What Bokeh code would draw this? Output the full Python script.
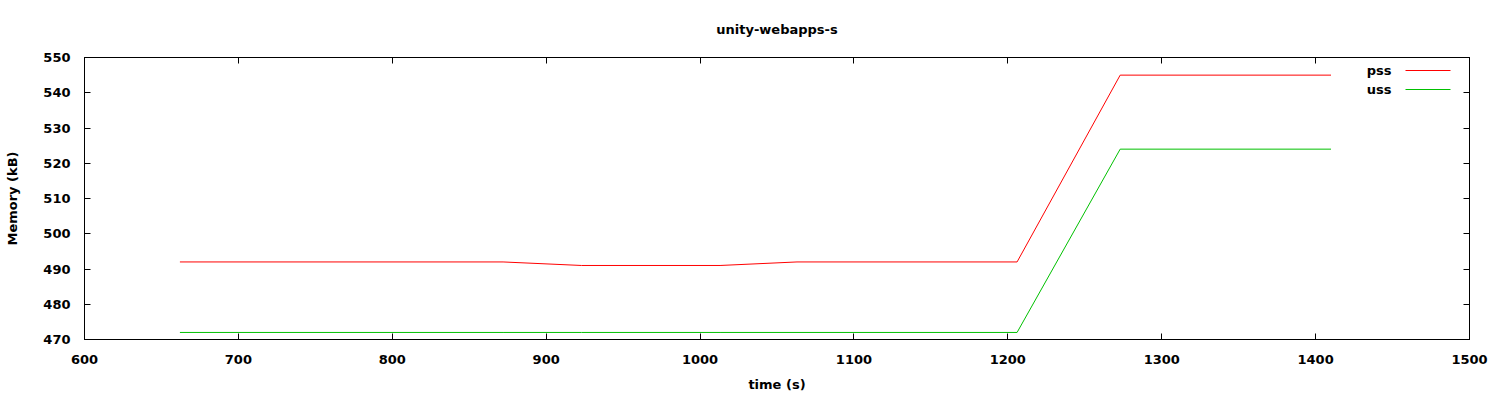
from bokeh.plotting import figure
from bokeh.models import (LinearAxis, FixedTicker, Range1d, Label, Arrow,
                          CustomJSTickFormatter)
from bokeh.embed import file_html
from bokeh.resources import INLINE

# ---- data ----
time_s = [662, 872, 923, 1013, 1063, 1206, 1273, 1410]
pss = [492, 492, 491, 491, 492, 492, 545, 545]
uss = [472, 472, 472, 472, 472, 472, 524, 524]
series_names = ["pss", "uss"]
series_colors = ["#ff0000", "#00c000"]
x_ticks = [600, 700, 800, 900, 1000, 1100, 1200, 1300, 1400, 1500]
y_ticks = [470, 480, 490, 500, 510, 520, 530, 540, 550]
title_text = "unity-webapps-s"
x_label = "time (s)"
y_label = "Memory (kB)"

FONT = "DejaVu Sans"
FS = "13px"

W, H = 1500, 400
BL, BR, BT, BB = 84, 31, 57, 61
FRAME_W, FRAME_H = W - BL - BR, H - BT - BB

p = figure(width=W, height=H, output_backend="svg", toolbar_location=None,
           x_range=Range1d(x_ticks[0], x_ticks[-1]),
           y_range=Range1d(y_ticks[0], y_ticks[-1]),
           min_border_left=BL, min_border_right=BR,
           min_border_top=BT, min_border_bottom=BB)

p.title.text = title_text
p.title.align = "center"
p.title.vertical_align = "top"
p.title.standoff = 38
p.title.text_font = FONT
p.title.text_font_size = FS
p.title.text_font_style = "bold"
p.title.text_color = "black"

p.xgrid.visible = False
p.ygrid.visible = False
p.outline_line_color = "black"
p.outline_line_width = 1
p.background_fill_color = "white"
p.border_fill_color = "white"


def style_axis(ax, ticks):
    ax.ticker = FixedTicker(ticks=ticks)
    ax.minor_tick_line_color = None
    ax.major_tick_in = 6
    ax.major_tick_out = 0
    ax.major_tick_line_color = "black"
    ax.axis_line_color = "black"
    ax.major_label_text_font = FONT
    ax.major_label_text_font_size = FS
    ax.major_label_text_font_style = "bold"
    ax.major_label_text_color = "black"
    ax.axis_label_text_font = FONT
    ax.axis_label_text_font_size = FS
    ax.axis_label_text_font_style = "bold"
    ax.axis_label_text_color = "black"


xa = p.xaxis[0]
style_axis(xa, x_ticks)
xa.axis_label = x_label
xa.major_label_standoff = 15
xa.axis_label_standoff = 10

ya = p.yaxis[0]
style_axis(ya, y_ticks)
ya.axis_label = y_label
ya.major_label_standoff = 14
ya.axis_label_standoff = 20

blank = CustomJSTickFormatter(code="return ''")
top = LinearAxis(formatter=blank, major_label_standoff=0)
style_axis(top, x_ticks)
p.add_layout(top, "above")
right = LinearAxis(formatter=blank, major_label_standoff=0)
style_axis(right, y_ticks)
p.add_layout(right, "right")

for name, vals, col in zip(series_names, [pss, uss], series_colors):
    p.line(time_s, vals, line_color=col, line_width=1)

# legend (text left of sample line, like gnuplot), in screen units from frame
leg_text_right = 1307
leg_line_x0, leg_line_x1 = 1321, 1366
leg_y = [FRAME_H - 13, FRAME_H - 32]
for name, col, yy in zip(series_names, series_colors, leg_y):
    p.add_layout(Label(x=leg_text_right, y=yy, x_units="screen", y_units="screen",
                       text=name, text_align="right", text_baseline="middle",
                       text_font=FONT, text_font_size=FS, text_font_style="bold",
                       text_color="black"))
    p.add_layout(Arrow(end=None, x_start=leg_line_x0, x_end=leg_line_x1,
                       y_start=yy, y_end=yy, start_units="screen", end_units="screen",
                       line_color=col, line_width=1))

open("out.html", "w").write(file_html(p, INLINE))
